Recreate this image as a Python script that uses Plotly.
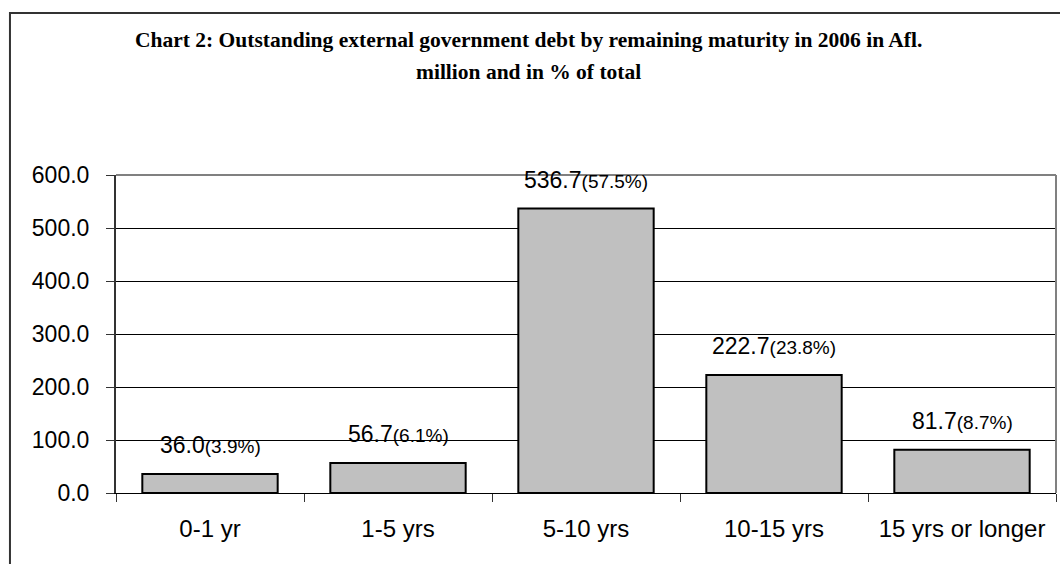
import plotly.graph_objects as go

categories = ["0-1 yr", "1-5 yrs", "5-10 yrs", "10-15 yrs", "15 yrs or longer"]
values = [36.0, 56.7, 536.7, 222.7, 81.7]
percents = [3.9, 6.1, 57.5, 23.8, 8.7]
y_ticks = [0, 100, 200, 300, 400, 500, 600]
title_lines = [
    "Chart 2: Outstanding external government debt by remaining maturity in 2006 in Afl.",
    "million and in % of total",
]

fig = go.Figure()
fig.add_trace(go.Bar(
    x=categories, y=values,
    marker=dict(color="#C0C0C0", line=dict(color="black", width=2)),
    hoverinfo="skip",
))

for c, v, p in zip(categories, values, percents):
    fig.add_annotation(
        x=c, y=v, xref="x", yref="y",
        text=f"{v:.1f}<span style='font-size:19px'>({p:.1f}%)</span>",
        showarrow=False, yanchor="bottom", yshift=14,
        font=dict(family="Liberation Sans, Arial", size=23, color="black"),
    )

# title: two centred lines (pixel positions via paper coords)
for line, ypix in zip(title_lines, [40, 72]):
    fig.add_annotation(
        x=(528 - 116) / 940, y=(493 - ypix) / 318, xref="paper", yref="paper",
        xanchor="center", yanchor="middle",
        text=f"<b>{line}</b>", showarrow=False,
        font=dict(family="Liberation Serif, Times New Roman", size=21.5, color="black"),
    )

# plot-area frame: gray top and right edges, drawn above the gridlines
fig.add_shape(type="line", xref="paper", yref="paper", x0=0, y0=1, x1=1, y1=1,
              line=dict(color="#808080", width=2), layer="above")
fig.add_shape(type="line", xref="paper", yref="paper", x0=1, y0=0, x1=1, y1=1,
              line=dict(color="#808080", width=2), layer="above")
# outer chart border
fig.add_shape(type="rect", xref="paper", yref="paper", x0=-0.1128, y0=-0.4, x1=1.05, y1=1.5094,
              line=dict(color="#333333", width=2), layer="above")

fig.update_layout(
    width=1060, height=564,
    margin=dict(l=116, r=4, t=175, b=71),
    paper_bgcolor="white", plot_bgcolor="white",
    showlegend=False, bargap=0.28,
    font=dict(family="Liberation Sans, Arial", size=23, color="black"),
)
fig.update_xaxes(
    type="category", showline=True, linecolor="black", linewidth=1,
    ticks="outside", tickson="boundaries", ticklen=8, tickcolor="#333333",
    showgrid=False, tickfont=dict(size=24), ticklabelstandoff=14,
)
fig.update_yaxes(
    range=[0, 600], tickvals=y_ticks, ticktext=[f"{t:.1f}" for t in y_ticks],
    showline=True, linecolor="#333333", linewidth=2,
    ticks="outside", ticklen=8, tickcolor="#333333",
    showgrid=True, gridcolor="black", gridwidth=1, zeroline=False,
    tickfont=dict(size=23), ticklabelstandoff=12,
)

fig.write_html("out.html")
